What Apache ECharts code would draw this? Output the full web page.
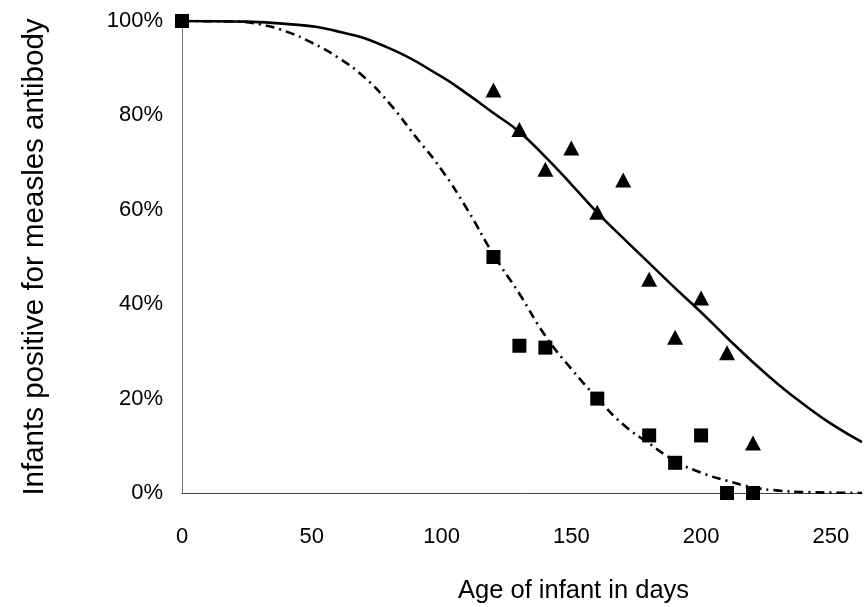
<!DOCTYPE html>
<html>
<head>
<meta charset="utf-8">
<script src="https://cdn.jsdelivr.net/npm/echarts@6/dist/echarts.min.js"></script>
<style>
  html, body { margin: 0; padding: 0; background: #fff; }
  #chart-container { width: 865px; height: 607px; }
</style>
</head>
<body>
<div id="chart-container"></div>
<script>
// Measured points (age in days, % positive)
var squareAges = [0, 120, 130, 140, 160, 180, 190, 200, 210, 220];
var squareVals = [100, 50, 31.2, 30.8, 20, 12.2, 6.4, 12.2, 0, 0];
var triangleAges = [120, 130, 140, 150, 160, 170, 180, 190, 200, 210, 220];
var triangleVals = [85.4, 77, 68.6, 73.1, 59.5, 66.3, 45.3, 33, 41.3, 29.7, 10.6];

// Fitted curves
var solidAges = [0, 20, 40, 60, 80, 100, 110, 120, 130, 140, 150, 160, 170, 180, 190, 200, 210, 220, 230, 240, 250, 262];
var solidVals = [100, 99.9, 99.4, 97.8, 94.2, 88.2, 84.5, 80.5, 76.5, 71.2, 65.4, 59.4, 54, 48.7, 43.4, 38.3, 32.9, 27.7, 22.9, 18.6, 14.7, 10.8];
var dashAges = [0, 20, 30, 40, 50, 60, 70, 80, 90, 100, 110, 120, 130, 140, 150, 160, 170, 180, 190, 200, 210, 220, 230, 240, 262];
var dashVals = [100, 99.9, 99.3, 97.8, 95.4, 92.3, 88.2, 82.5, 75.5, 68.5, 60, 50.5, 42.2, 33.3, 26.3, 20.1, 14.5, 10.5, 6.8, 4.3, 2.6, 1.2, 0.5, 0.2, 0];

function pairs(xs, ys) {
  return xs.map(function (x, i) { return [x, ys[i]]; });
}

var dom = document.getElementById('chart-container');
var myChart = echarts.init(dom, null, { renderer: 'canvas' });

var font = 'Liberation Sans';

var option = {
  animation: false,
  backgroundColor: '#fff',
  textStyle: { fontFamily: font, color: '#000' },
  title: {
    text: 'Age of infant in days',
    left: 458,
    top: 578,
    padding: 0,
    textStyle: { fontFamily: font, fontSize: 25.5, fontWeight: 'normal', color: '#000' }
  },
  grid: { left: 182, right: 0, top: 21, bottom: 114 },
  xAxis: {
    type: 'value',
    min: 0,
    max: 262,
    interval: 50,
    axisLine: { lineStyle: { color: '#444', width: 1 } },
    axisTick: { show: false },
    splitLine: { show: false },
    axisLabel: {
      fontSize: 22,
      color: '#000',
      margin: 33,
      formatter: function (v) { return v % 50 === 0 ? v : ''; }
    }
  },
  yAxis: {
    type: 'value',
    min: 0,
    max: 100,
    interval: 20,
    name: 'Infants positive for measles antibody',
    nameLocation: 'middle',
    nameGap: 132,
    nameTextStyle: { fontSize: 29.5, color: '#000' },
    axisLine: { show: true, lineStyle: { color: '#777', width: 1 } },
    axisTick: { show: false },
    splitLine: { show: false },
    axisLabel: { fontSize: 22, color: '#000', margin: 19, formatter: '{value}%' }
  },
  series: [
    {
      type: 'line',
      data: pairs(solidAges, solidVals),
      smooth: true,
      showSymbol: false,
      symbol: 'none',
      lineStyle: { color: '#000', width: 2.6 }
    },
    {
      type: 'line',
      data: pairs(dashAges, dashVals),
      smooth: true,
      showSymbol: false,
      symbol: 'none',
      lineStyle: { color: '#000', width: 2.6, type: [9, 5, 2, 5] }
    },
    {
      type: 'scatter',
      data: pairs(triangleAges, triangleVals),
      symbol: 'triangle',
      symbolSize: [16, 15],
      itemStyle: { color: '#000', opacity: 1 }
    },
    {
      type: 'scatter',
      data: pairs(squareAges, squareVals),
      symbol: 'rect',
      symbolSize: 14,
      itemStyle: { color: '#000', opacity: 1 }
    }
  ]
};

myChart.setOption(option);
window.addEventListener('resize', myChart.resize);
</script>
</body>
</html>
